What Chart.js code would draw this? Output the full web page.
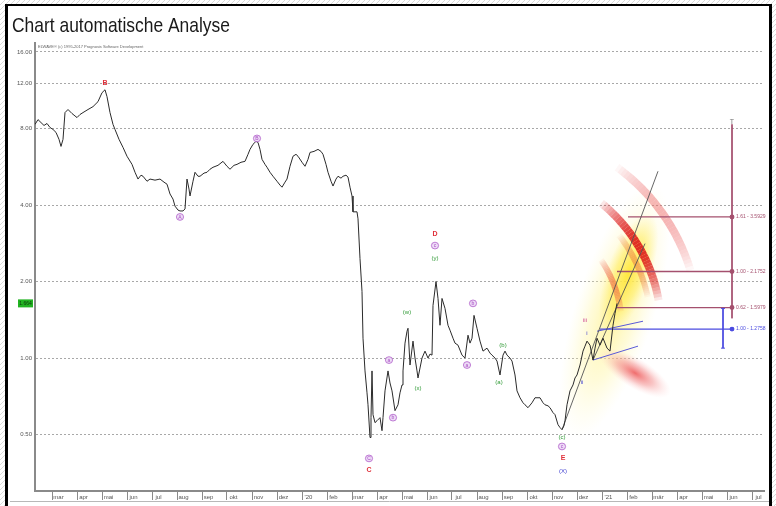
<!DOCTYPE html>
<html><head><meta charset="utf-8">
<script src="https://cdn.jsdelivr.net/npm/chart.js@4.4.1/dist/chart.umd.min.js"></script>
<style>html,body{margin:0;padding:0;background:#fff;overflow:hidden}canvas{display:block}</style>
</head><body>
<canvas id="c" width="776" height="506" style="width:776px;height:506px"></canvas>
<script>
// ---------- data ----------
const monthLabels = ['mar','apr','mai','jun','jul','aug','sep','okt','nov','dez',"'20",'feb','mar','apr','mai','jun','jul','aug','sep','okt','nov','dez',"'21",'feb','mär','apr','mai','jun','jul'];
const yTickValues = [0.5, 1, 2, 4, 8, 12, 16];

// x = months since 1 Mar 2019
const priceMonths = [-0.68,-0.56,-0.44,-0.32,-0.20,-0.08,0.04,0.16,0.28,0.36,
0.44,0.52,0.64,0.80,1.00,1.12,1.24,1.44,1.64,1.84,
2.00,2.12,2.20,2.32,2.44,2.52,2.68,2.84,3.00,3.20,
3.32,3.44,3.56,3.64,3.80,3.92,4.12,4.32,4.48,4.60,
4.72,4.84,4.92,5.04,5.12,5.24,5.32,5.40,5.48,5.52,
5.64,5.72,5.84,5.92,6.08,6.20,6.32,6.44,6.64,6.84,
7.00,7.12,7.28,7.40,7.56,7.72,7.84,7.92,8.04,8.16,
8.24,8.32,8.40,8.52,8.60,8.72,8.84,9.00,9.12,9.20,
9.32,9.40,9.52,9.64,9.76,9.84,10.00,10.12,10.24,10.32,
10.48,10.64,10.76,10.84,10.96,11.04,11.16,11.24,11.36,11.44,
11.56,11.64,11.76,11.84,11.92,12.00,12.04,12.12,12.20,12.24,
12.32,12.40,12.44,12.52,12.60,12.64,12.72,12.76,12.80,12.84,
12.92,13.00,13.12,13.20,13.24,13.32,13.44,13.52,13.60,13.72,
13.84,13.92,14.00,14.04,14.12,14.20,14.24,14.32,14.44,14.52,
14.60,14.64,14.72,14.80,14.92,15.04,15.12,15.20,15.24,15.36,
15.44,15.52,15.60,15.72,15.84,15.92,16.04,16.12,16.24,16.40,
16.52,16.64,16.72,16.80,16.88,17.00,17.12,17.24,17.40,17.52,
17.60,17.72,17.80,17.92,18.04,18.12,18.20,18.32,18.40,18.52,
18.60,18.72,18.84,18.92,19.04,19.20,19.32,19.52,19.64,19.72,
19.84,19.92,20.04,20.12,20.24,20.32,20.40,20.48,20.52,20.60,
20.72,20.84,20.92,21.00,21.12,21.24,21.32,21.40,21.52,21.64,
21.72,21.80,21.92,22.04,22.12,22.20,22.32,22.44,22.52,22.60];
const priceValues = [8.30,8.67,8.44,8.22,8.37,8.07,7.93,7.72,7.25,6.80,
7.25,9.24,9.50,9.16,8.83,9.08,9.24,9.50,9.75,10.20,
11.06,11.36,10.67,9.24,8.30,7.93,7.25,6.74,6.22,5.78,
5.38,5.06,5.24,5.19,4.96,5.06,5.01,5.06,4.92,4.83,
4.42,4.22,3.96,3.82,3.79,3.79,3.86,5.06,4.62,4.34,
4.96,5.38,5.19,5.19,5.34,5.38,5.53,5.63,5.73,5.94,
5.68,5.53,5.73,5.78,5.89,5.94,6.33,6.62,6.93,7.12,
7.05,6.62,6.05,5.78,5.63,5.38,5.19,4.96,4.79,4.70,
4.92,5.06,5.68,6.22,6.33,6.22,5.89,5.68,6.05,6.44,
6.50,6.62,6.50,6.33,5.78,5.38,4.96,4.75,5.06,5.19,
5.10,5.19,5.24,5.15,4.70,4.34,3.76,3.76,3.76,3.53,
2.46,1.828,1.197,0.890,0.730,0.655,0.487,0.583,0.890,0.599,
0.557,0.567,0.583,0.518,0.583,0.743,0.890,0.798,0.743,0.621,
0.655,0.730,0.784,0.890,1.145,1.275,1.310,0.939,1.166,1.000,
0.890,0.835,0.914,1.000,1.065,1.000,1.037,1.027,1.611,2.000,
1.716,1.346,1.716,1.568,1.346,1.287,1.197,1.145,1.124,1.027,
1.000,1.230,1.145,1.197,1.472,1.310,1.166,1.065,1.094,1.046,
1.027,1.000,0.973,0.858,1.027,1.065,1.027,1.000,0.973,0.858,
0.743,0.698,0.667,0.655,0.638,0.667,0.698,0.698,0.667,0.655,
0.649,0.638,0.610,0.599,0.547,0.533,0.523,0.542,0.567,0.655,
0.743,0.784,0.835,0.858,0.939,1.065,1.114,1.166,1.124,0.982,
1.094,1.197,1.124,1.197,1.145,1.094,1.065,1.346,1.499,1.641];
const lastPriceText = '1.664';

// Elliott wave labels
const waveText   = ['B','A','B','C','C','a','b','(w)','(x)','D','c','(y)','a','b','(a)','(b)','(c)','c','E','(X)','iii','i','ii','T'];
const waveMonth  = [2.12,5.12,8.20,12.68,12.68,13.48,13.64,14.20,14.64,15.32,15.32,15.32,16.60,16.84,17.88,18.04,20.40,20.40,20.44,20.44,21.32,21.40,21.20,27.20];
const waveValue  = [12.10,3.59,7.31,0.403,0.365,0.982,0.583,1.513,0.763,3.08,2.77,2.48,0.939,1.641,0.806,1.124,0.487,0.449,0.406,0.361,1.408,1.253,0.806,8.52];
const waveDegree = ['red','purple','purple','purple','red','purple','purple','green','green','red','purple','green','purple','purple','green','green','green','purple','red','blue','pink','blue','blue','gray'];

// channel / trend lines (month, value pairs)
const channelAMonths = [20.40, 24.24], channelAValues = [0.523, 5.43];
const channelBMonths = [21.64, 23.72], channelBValues = [0.982, 2.82];
const blueAMonths = [21.80, 23.64], blueAValues = [1.275, 1.396];
const blueBMonths = [21.64, 23.44], blueBValues = [0.982, 1.114];

// price targets
const targetValues = [3.59, 2.19, 1.58, 1.30];
const targetStartMonths = [23.04, 22.60, 22.60, 21.92];
const targetRatios = ['1.61', '1.00', '0.62', '1.00'];
const targetLevels = ['3.5929', '2.1752', '1.5979', '1.2758'];
const targetEndMonth = 27.20;
const targetVerticalValues = [8.30, 1.434];
const blueVerticalMonth = 26.84, blueVerticalValues = [1.568, 1.094];

// probability zones (data anchors)
const paleConeMonths = [20.90, 24.12], paleConeValues = [0.487, 4.83];
const brightConeMonths = [22.20, 23.92], brightConeValues = [1.25, 3.69];
const redBlobMonths = [21.92, 24.72], redBlobValues = [1.06, 0.72];
const arcCenterMonth = 17.92, arcCenterValue = 1.31;

// ---------- styles ----------
const degreeStyle = {
  red:    {color:'#e0303a', font:'bold 7px "Liberation Sans"'},
  purple: {color:'#a94fc4', font:'5px "Liberation Sans"', circle:true, fill:'rgba(235,215,245,0.9)'},
  green:  {color:'#2f9a35', font:'6px "Liberation Sans"'},
  blue:   {color:'#3c3cd0', font:'6px "Liberation Sans"'},
  pink:   {color:'#cc3f8c', font:'6px "Liberation Sans"'},
  gray:   {color:'#777777', font:'7px "Liberation Sans"'}
};
const maroon = '#a4506e', blueT = '#4b4be0';

const pts = (xs, ys) => xs.map((x, i) => ({x, y: ys[i]}));
const lineDs = (data, color, width, extra) => Object.assign({data, borderColor: color, backgroundColor: color, borderWidth: width, pointRadius: 0, fill: false, tension: 0}, extra || {});

const datasets = [
  lineDs(pts(priceMonths, priceValues), '#2b2b2b', 1),
  lineDs(pts(channelAMonths, channelAValues), '#555', 0.9),
  lineDs(pts(channelBMonths, channelBValues), '#555', 0.9),
  lineDs(pts(blueAMonths, blueAValues), '#5a5ad8', 1),
  lineDs(pts(blueBMonths, blueBValues), '#5a5ad8', 1),
];
targetValues.forEach((v, i) => {
  const c = i === 3 ? blueT : maroon;
  datasets.push(lineDs(pts([targetStartMonths[i], targetEndMonth], [v, v]), c, 1.3, {pointRadius: [0, 1.8]}));
});
datasets.push(lineDs(pts([targetEndMonth, targetEndMonth], targetVerticalValues), maroon, 1));
datasets.push(lineDs(pts([blueVerticalMonth, blueVerticalMonth], blueVerticalValues), blueT, 1));

// ---------- drawing helpers ----------
function glow(ctx, x1, y1, x2, y2, minor, stops) {
  const cx = (x1 + x2) / 2, cy = (y1 + y2) / 2;
  const major = Math.hypot(x2 - x1, y2 - y1) / 2;
  const ang = Math.atan2(y2 - y1, x2 - x1);
  ctx.save(); ctx.translate(cx, cy); ctx.rotate(ang); ctx.scale(1, minor / major);
  const g = ctx.createRadialGradient(0, 0, 0, 0, 0, major);
  stops.forEach(s => g.addColorStop(s[0], s[1]));
  ctx.fillStyle = g; ctx.beginPath(); ctx.arc(0, 0, major, 0, Math.PI * 2); ctx.fill();
  ctx.restore();
}
function arcBand(ctx, cx, cy, r, d0, d1, width, rgb, alpha) {
  const a0 = d0 * Math.PI / 180, a1 = d1 * Math.PI / 180, n = 36;
  ctx.save(); ctx.lineWidth = width; ctx.lineCap = 'butt';
  for (let i = 0; i < n; i++) {
    const t = (i + 0.5) / n;
    const a = alpha * Math.pow(Math.sin(Math.PI * t), 0.7);
    ctx.strokeStyle = `rgba(${rgb},${a.toFixed(3)})`;
    ctx.beginPath(); ctx.arc(cx, cy, r, a0 + (a1 - a0) * i / n, a0 + (a1 - a0) * (i + 1) / n); ctx.stroke();
  }
  ctx.restore();
}

const decor = {
  id: 'decor',
  beforeDraw(chart) {
    const ctx = chart.ctx, W = chart.width, H = chart.height;
    ctx.save();
    ctx.fillStyle = '#fff'; ctx.fillRect(0, 0, W, H);
    ctx.strokeStyle = '#dadada'; ctx.lineWidth = 1; ctx.beginPath();
    for (let k = -H; k < W; k += 5) { ctx.moveTo(k, H); ctx.lineTo(k + H, 0); }
    ctx.stroke();
    ctx.fillStyle = '#fff'; ctx.fillRect(7, 5, 764, H - 5);
    ctx.restore();
  },
  beforeDatasetsDraw(chart) {
    const ctx = chart.ctx, xs = chart.scales.x, ys = chart.scales.y;
    const X = m => xs.getPixelForValue(m), Y = v => ys.getPixelForValue(v);
    ctx.save();
    ctx.beginPath(); ctx.rect(chart.chartArea.left, chart.chartArea.top, chart.chartArea.right - chart.chartArea.left, chart.chartArea.bottom - chart.chartArea.top); ctx.clip();
    // pale yellow cone
    glow(ctx, X(paleConeMonths[0]), Y(paleConeValues[0]), X(paleConeMonths[1]), Y(paleConeValues[1]), 40,
      [[0, 'rgba(255,240,120,0.7)'], [0.55, 'rgba(255,245,160,0.4)'], [1, 'rgba(255,250,200,0)']]);
    // red blob below
    glow(ctx, X(redBlobMonths[0]), Y(redBlobValues[0]), X(redBlobMonths[1]), Y(redBlobValues[1]), 15,
      [[0, 'rgba(235,60,60,0.75)'], [0.5, 'rgba(240,110,110,0.4)'], [1, 'rgba(255,200,200,0)']]);
    // bright yellow core
    glow(ctx, X(brightConeMonths[0]), Y(brightConeValues[0]), X(brightConeMonths[1]), Y(brightConeValues[1]), 22,
      [[0, 'rgba(255,228,40,0.85)'], [0.6, 'rgba(255,235,80,0.5)'], [1, 'rgba(255,240,120,0)']]);
    // red arcs
    const cx = X(arcCenterMonth), cy = Y(arcCenterValue);
    arcBand(ctx, cx, cy, 199, -54, -17, 8, '235,90,90', 0.45);
    arcBand(ctx, cx, cy, 161, -51, -10, 8, '220,25,25', 0.9);
    arcBand(ctx, cx, cy, 151, -38, -12, 6, '235,110,60', 0.5);
    arcBand(ctx, cx, cy, 122, -34, -8, 6, '235,80,60', 0.55);
    ctx.restore();
  },
  afterDatasetsDraw(chart) {
    const ctx = chart.ctx, xs = chart.scales.x, ys = chart.scales.y;
    const X = m => xs.getPixelForValue(m), Y = v => ys.getPixelForValue(v);
    ctx.save();
    ctx.textAlign = 'center'; ctx.textBaseline = 'middle';
    waveText.forEach((t, i) => {
      const st = degreeStyle[waveDegree[i]];
      const x = X(waveMonth[i]), y = Y(waveValue[i]);
      ctx.font = st.font;
      if (st.circle) {
        ctx.beginPath(); ctx.ellipse(x, y, 3.6, 3.4, 0, 0, Math.PI * 2);
        ctx.fillStyle = st.fill; ctx.fill();
        ctx.strokeStyle = st.color; ctx.lineWidth = 0.7; ctx.stroke();
      }
      ctx.fillStyle = st.color; ctx.fillText(t, x, y + 0.3);
    });
    // target labels
    ctx.textAlign = 'left'; ctx.font = '5px "Liberation Sans"';
    targetValues.forEach((v, i) => {
      ctx.fillStyle = i === 3 ? blueT : maroon;
      ctx.fillText(targetRatios[i] + ' - ' + targetLevels[i], X(targetEndMonth) + 4, Y(v));
    });
    // small caps of the blue vertical bar
    ctx.strokeStyle = blueT; ctx.lineWidth = 1;
    blueVerticalValues.forEach(v => { ctx.beginPath(); ctx.moveTo(X(blueVerticalMonth) - 2, Y(v)); ctx.lineTo(X(blueVerticalMonth) + 2, Y(v)); ctx.stroke(); });
    ctx.restore();
  },
  afterDraw(chart) {
    const ctx = chart.ctx, ys = chart.scales.y, ca = chart.chartArea;
    ctx.save();
    // current price tag
    const yp = ys.getPixelForValue(priceValues[priceValues.length - 1]);
    ctx.fillStyle = '#22b422'; ctx.fillRect(18, yp - 4, 15, 8);
    ctx.fillStyle = '#0a3a0a'; ctx.font = '5px "Liberation Sans"'; ctx.textAlign = 'center'; ctx.textBaseline = 'middle';
    ctx.fillText(lastPriceText, 25.5, yp + 0.3);
    // copyright line
    ctx.fillStyle = '#666'; ctx.font = '4px "Liberation Sans"'; ctx.textAlign = 'left'; ctx.textBaseline = 'middle';
    ctx.fillText('ELWAVE\u00AE (c) 1995-2017 Prognosis Software Development', ca.left + 3, ca.top + 4);
    // separator under the month row
    ctx.strokeStyle = '#b8b8b8'; ctx.lineWidth = 1;
    ctx.beginPath(); ctx.moveTo(10, 501.5); ctx.lineTo(769, 501.5); ctx.stroke();
    // title
    ctx.save(); ctx.translate(12, 32); ctx.scale(0.83, 1);
    ctx.fillStyle = '#1a1a1a'; ctx.font = '21px "Liberation Sans"'; ctx.textBaseline = 'alphabetic';
    ctx.fillText('Chart automatische Analyse', 0, 0);
    ctx.restore();
    // frame
    ctx.strokeStyle = '#000';
    ctx.lineWidth = 3; ctx.beginPath(); ctx.moveTo(6.5, 4); ctx.lineTo(6.5, 506); ctx.stroke();
    ctx.beginPath(); ctx.moveTo(770.5, 4); ctx.lineTo(770.5, 506); ctx.stroke();
    ctx.lineWidth = 2; ctx.beginPath(); ctx.moveTo(5, 5); ctx.lineTo(772, 5); ctx.stroke();
    ctx.restore();
  }
};

new Chart(document.getElementById('c'), {
  type: 'line',
  data: {datasets},
  plugins: [decor],
  options: {
    responsive: false, animation: false, devicePixelRatio: 1,
    parsing: true,
    layout: {padding: {left: 8, top: 43, right: 12, bottom: 0}},
    plugins: {legend: {display: false}, tooltip: {enabled: false}, title: {display: false}},
    scales: {
      x: {
        type: 'linear', min: -0.68, max: 28.48, position: 'bottom',
        afterFit: s => { s.height = 15; },
        afterBuildTicks: s => {
          const t = [];
          for (let i = 0; i < monthLabels.length; i++) { t.push({value: i}); t.push({value: i + 0.26}); }
          s.ticks = t;
        },
        ticks: {
          autoSkip: false, maxRotation: 0, minRotation: 0, padding: -6,
          font: {size: 6, family: '"Liberation Sans"'}, color: '#555',
          callback: v => Number.isInteger(v) ? '' : (monthLabels[Math.round(v - 0.26)] || '')
        },
        grid: {
          drawOnChartArea: false, drawTicks: true, tickLength: 9, lineWidth: 1,
          color: c => (c.tick && Number.isInteger(c.tick.value)) ? '#8a8a8a' : 'rgba(0,0,0,0)'
        },
        border: {display: true, color: '#8a8a8a', width: 2}
      },
      y: {
        type: 'logarithmic', min: 0.308, max: 17.35,
        afterFit: s => { s.width = 27; },
        afterBuildTicks: s => { s.ticks = yTickValues.map(v => ({value: v})); },
        ticks: {
          autoSkip: false, padding: 3, color: '#555',
          font: {size: 6, family: '"Liberation Sans"'},
          callback: v => Number(v).toFixed(2)
        },
        grid: {color: '#a8a8a8', lineWidth: 1, drawTicks: false},
        border: {display: true, color: '#8a8a8a', width: 2, dash: [2, 2]}
      }
    }
  }
});
</script>
</body></html>
